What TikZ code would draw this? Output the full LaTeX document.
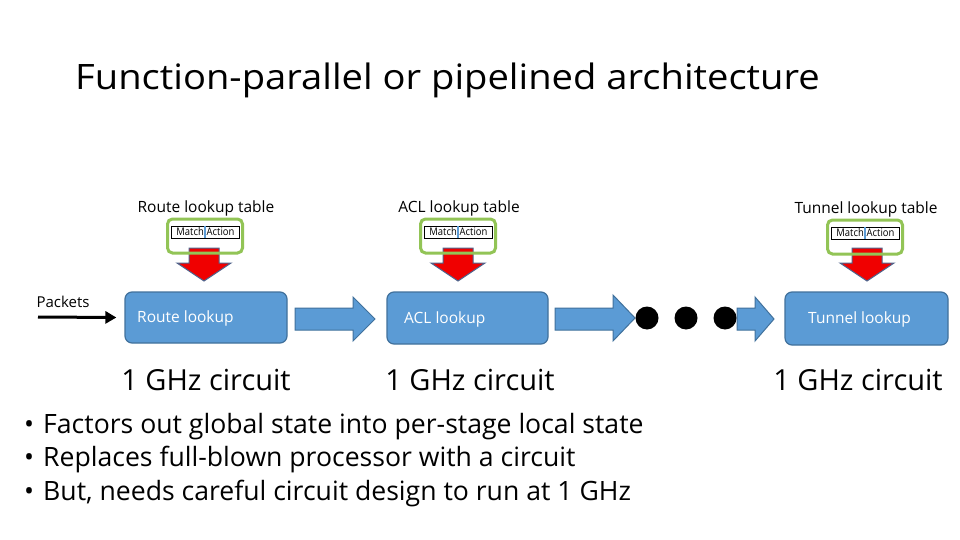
\documentclass[tikz,border=0pt]{standalone}
\usepackage{fontspec}
\setmainfont{Open Sans}
\newfontfamily\lightfont{Open Sans}
\newfontfamily\titlefont[FakeStretch=1.09]{Open Sans}
\newfontfamily\narrowfont[FakeStretch=0.9]{Open Sans}
\usetikzlibrary{arrows.meta}
\definecolor{boxblue}{RGB}{91,155,213}
\definecolor{boxedge}{RGB}{65,113,156}
\definecolor{tgreen}{RGB}{146,196,86}
\definecolor{redarrow}{RGB}{240,0,0}
\definecolor{redge}{RGB}{80,100,140}
\tikzset{
  fs/.style={font=\fontsize{#1}{#1}\selectfont},
  stagebox/.style={draw=boxedge, fill=boxblue, line width=1.2pt, rounded corners=7pt, inner sep=0pt},
  stagetext/.style={text=white, inner sep=0pt, anchor=west, fs=15.5},
  tablebox/.style={draw=tgreen, line width=3pt, rounded corners=5pt, inner sep=0pt},
  matchbox/.style={draw=black, fill=white, line width=1pt, inner sep=0pt},
  matchtext/.style={inner sep=0pt, font=\narrowfont\fontsize{10.5}{10.5}\selectfont},
  tablelabel/.style={inner sep=0pt, fs=15.5},
  ghz/.style={inner sep=0pt, font=\lightfont\fontsize{29}{29}\selectfont},
  bullet/.style={inner sep=0pt, anchor=base west, font=\lightfont\fontsize{26.6}{26.6}\selectfont},
  blockarrow/.style={draw=boxedge, fill=boxblue, line width=1pt, line join=miter},
  downarrow/.style={draw=redge, fill=redarrow, line width=1pt},
  dot/.style={circle, fill=black, minimum size=23pt, inner sep=0pt}
}
\newcommand{\tableunit}[4]{% name, center x, top y, label
  \node[tablelabel] (#1lbl) at (#2+1, #3-11) {#4};
  \node[tablebox, minimum width=75pt, minimum height=34pt] (#1tb) at (#2, #3+17) {};
  \node[matchbox, minimum width=68pt, minimum height=12pt] (#1mb) at (#2, #3+13) {};
  \node[matchtext, anchor=east] (#1m) at (#2-1, #3+13) {Match};
  \node[matchtext, anchor=west] (#1a) at (#2+1.5, #3+13) {Action};
  \draw[boxblue, line width=2pt] (#2, #3+7) -- (#2, #3+19);
}
\newcommand{\redarrow}[2]{% center x, name
  \draw[downarrow] (#1-15,248) -- (#1+15,248) -- (#1+15,263) -- (#1+27,263)
     -- (#1,281) -- (#1-27,263) -- (#1-15,263) -- cycle;
}
\begin{document}
\begin{tikzpicture}[x=1pt,y=-1pt]
\useasboundingbox (0,0) rectangle (960,540);
\fill[white] (0,0) rectangle (960,540);

% title
\node[inner sep=0pt, anchor=base west, font=\titlefont\fontsize{35}{35}\selectfont] (title) at (75,90) {Function-parallel or pipelined architecture};

% tables
\redarrow{204}{ra1}
\redarrow{458}{ra2}
\redarrow{867}{ra3}
\tableunit{rt}{205}{219}{Route lookup table}
\tableunit{at}{458}{219}{ACL lookup table}
\tableunit{tt}{865}{220}{Tunnel lookup table}

% stages
\node[stagebox, minimum width=162pt, minimum height=51pt] (route) at (206,317.5) {};
\node[stagetext] (routet) at (137,318) {Route lookup};
\node[stagebox, minimum width=161pt, minimum height=52pt] (acl) at (467.5,318) {};
\node[stagetext] (aclt) at (404,319) {ACL lookup};
\node[stagebox, minimum width=163pt, minimum height=53pt] (tunnel) at (866.5,318.5) {};
\node[stagetext] (tunnelt) at (808,319) {Tunnel lookup};

% packets
\coordinate (pk) at (38,317);
\node[inner sep=0pt, fs=15] (pkt) at (63,302) {Packets};
\draw[line width=3pt, -{Triangle[length=11pt,width=12pt]}] (pk) -- ([xshift=-8pt]route.west);

% block arrows
\draw[blockarrow] (295,308) -- (353,308) -- (353,297) -- (375,319) -- (353,341) -- (353,330) -- (295,330) -- cycle;
\draw[blockarrow] (555,308) -- (613,308) -- (613,295) -- (635,318) -- (613,341) -- (613,330) -- (555,330) -- cycle;
\draw[blockarrow] (737,308) -- (755,308) -- (755,297) -- (774,319) -- (755,341) -- (755,330) -- (737,330) -- cycle;

% dots
\node[dot] (d1) at (647,318) {};
\node[dot] (d2) at (686,318) {};
\node[dot] (d3) at (725,318) {};

% GHz labels
\node[ghz] (g1) at (206,380) {1 GHz circuit};
\node[ghz] (g2) at (470,380) {1 GHz circuit};
\node[ghz] (g3) at (858,380) {1 GHz circuit};

% bullets
\node[bullet] (b1) at (24,433) {•\hspace{9pt}Factors out global state into per-stage local state};
\node[bullet] (b2) at (24,466) {•\hspace{9pt}Replaces full-blown processor with a circuit};
\node[bullet] (b3) at (24,500) {•\hspace{9pt}But, needs careful circuit design to run at 1 GHz};
\end{tikzpicture}
\end{document}
